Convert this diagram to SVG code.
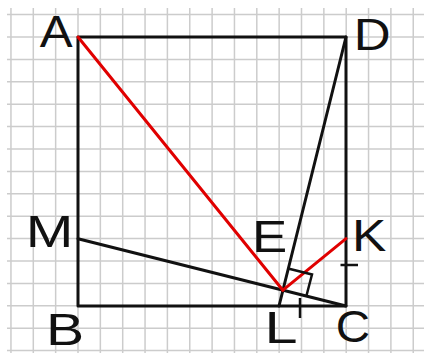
<svg xmlns="http://www.w3.org/2000/svg" width="424" height="353" viewBox="0 0 424 353">
<style>
.grid line{stroke:#cccccc;stroke-width:1.5}
.blk{stroke:#111;stroke-width:3;fill:none;stroke-linecap:round;stroke-linejoin:round}
.red{stroke:#e00000;stroke-width:3;fill:none;stroke-linecap:round}
.thin{stroke:#111;stroke-width:2.5;fill:none}
text{font-family:"Liberation Sans",Arial,sans-serif;font-size:44px;fill:#111;text-anchor:middle}
</style>
<rect width="424" height="353" fill="#fff"/>
<g class="grid" id="grid">
<line x1="10.95" y1="8" x2="10.95" y2="353"/>
<line x1="33.3" y1="8" x2="33.3" y2="353"/>
<line x1="55.65" y1="8" x2="55.65" y2="353"/>
<line x1="78" y1="8" x2="78" y2="353"/>
<line x1="100.35" y1="8" x2="100.35" y2="353"/>
<line x1="122.7" y1="8" x2="122.7" y2="353"/>
<line x1="145.05" y1="8" x2="145.05" y2="353"/>
<line x1="167.4" y1="8" x2="167.4" y2="353"/>
<line x1="189.75" y1="8" x2="189.75" y2="353"/>
<line x1="212.1" y1="8" x2="212.1" y2="353"/>
<line x1="234.45" y1="8" x2="234.45" y2="353"/>
<line x1="256.8" y1="8" x2="256.8" y2="353"/>
<line x1="279.15" y1="8" x2="279.15" y2="353"/>
<line x1="301.5" y1="8" x2="301.5" y2="353"/>
<line x1="323.85" y1="8" x2="323.85" y2="353"/>
<line x1="346.2" y1="8" x2="346.2" y2="353"/>
<line x1="368.55" y1="8" x2="368.55" y2="353"/>
<line x1="390.9" y1="8" x2="390.9" y2="353"/>
<line x1="413.25" y1="8" x2="413.25" y2="353"/>
<line x1="7" y1="14.6" x2="424" y2="14.6"/>
<line x1="7" y1="37" x2="424" y2="37"/>
<line x1="7" y1="59.4" x2="424" y2="59.4"/>
<line x1="7" y1="81.8" x2="424" y2="81.8"/>
<line x1="7" y1="104.2" x2="424" y2="104.2"/>
<line x1="7" y1="126.6" x2="424" y2="126.6"/>
<line x1="7" y1="149" x2="424" y2="149"/>
<line x1="7" y1="171.4" x2="424" y2="171.4"/>
<line x1="7" y1="193.8" x2="424" y2="193.8"/>
<line x1="7" y1="216.2" x2="424" y2="216.2"/>
<line x1="7" y1="238.6" x2="424" y2="238.6"/>
<line x1="7" y1="261" x2="424" y2="261"/>
<line x1="7" y1="283.4" x2="424" y2="283.4"/>
<line x1="7" y1="305.8" x2="424" y2="305.8"/>
<line x1="7" y1="328.2" x2="424" y2="328.2"/>
<line x1="7" y1="350.6" x2="424" y2="350.6"/>
</g>
<g id="connectors">
<polygon class="blk" points="78,37 346,37 346,306 78,306"/>
<line class="blk" x1="78" y1="238.7" x2="346" y2="306"/>
<line class="blk" x1="346" y1="37" x2="279" y2="306"/>
<line class="red" x1="78" y1="37" x2="282.9" y2="290.2"/>
<line class="red" x1="282.9" y1="290.2" x2="346" y2="238.7"/>
<polyline class="thin" points="288,268.5 312,274.5 306.5,295.5"/>
<line class="thin" x1="340.5" y1="265" x2="358" y2="265"/>
<line class="thin" x1="300" y1="298" x2="300" y2="318"/>
</g>
<g id="A"><text transform="translate(56.3,46.7) scale(1.12,1)">A</text></g>
<g id="D"><text transform="translate(372.3,50) scale(1.16,1)">D</text></g>
<g id="M"><text transform="translate(49.5,247) scale(1.3,1)">M</text></g>
<g id="B"><text transform="translate(65,344.5) scale(1.3,1)">B</text></g>
<g id="E"><text transform="translate(269.5,252) scale(1.2,1)">E</text></g>
<g id="K"><text transform="translate(369.2,251) scale(1.17,1)">K</text></g>
<g id="L"><text transform="translate(281,342.7) scale(1.35,1)">L</text></g>
<g id="C"><text transform="translate(353,342) scale(1.08,1)">C</text></g>
</svg>
